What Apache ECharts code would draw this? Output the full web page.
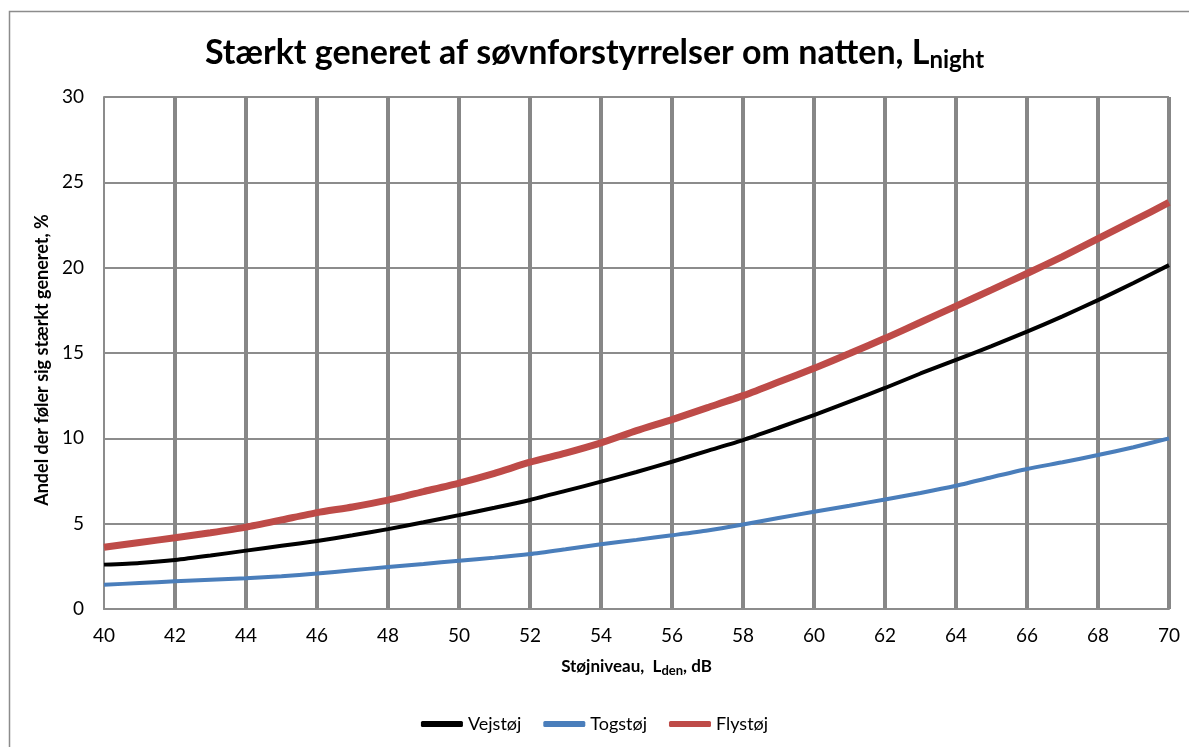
<!DOCTYPE html>
<html>
<head>
<meta charset="utf-8">
<script src="https://cdn.jsdelivr.net/npm/echarts@6/dist/echarts.min.js"></script>
<style>
  html, body { margin: 0; padding: 0; background: #fff; }
  #chart { width: 1189px; height: 747px; }
</style>
</head>
<body>
<div id="chart"></div>
<script>
// stoejniveau L_den, dB
var levels = [40,41,42,43,44,45,46,47,48,49,50,51,52,53,54,55,56,57,58,59,60,61,62,63,64,65,66,67,68,69,70];
var vejstoej = [2.6,2.7,2.87,3.13,3.42,3.7,3.98,4.32,4.68,5.08,5.5,5.93,6.39,6.92,7.46,8.03,8.63,9.27,9.9,10.62,11.36,12.15,12.95,13.8,14.6,15.4,16.25,17.15,18.1,19.1,20.15];
var togstoej = [1.42,1.52,1.62,1.71,1.8,1.92,2.08,2.27,2.46,2.64,2.83,3.01,3.22,3.5,3.79,4.05,4.32,4.6,4.95,5.33,5.7,6.05,6.42,6.8,7.22,7.72,8.2,8.6,9.02,9.48,10.0];
var flystoej = [3.62,3.9,4.17,4.47,4.8,5.22,5.65,5.98,6.38,6.88,7.38,7.95,8.6,9.13,9.73,10.45,11.1,11.8,12.5,13.3,14.1,14.97,15.86,16.8,17.75,18.7,19.66,20.65,21.7,22.75,23.82];
var seriesNames = ['Vejstøj', 'Togstøj', 'Flystøj'];
var colors = ['#000000', '#4a7ebb', '#be4b48'];

function pairs(vals) {
    var out = [];
    for (var i = 0; i < levels.length; i++) {
        out.push([levels[i], vals[i]]);
    }
    return out;
}

var font = 'Lato, "Open Sans", sans-serif';
var chart = echarts.init(document.getElementById('chart'));
var option = {
    backgroundColor: '#fff',
    animation: false,
    textStyle: { fontFamily: font },
    title: {
        text: '{a|Stærkt generet af søvnforstyrrelser om natten, L}{b|night}',
        left: 'center',
        top: 28,
        textStyle: {
            rich: {
                a: { fontFamily: font, fontWeight: 'bold', fontSize: 34, color: '#000', lineHeight: 40 },
                b: { fontFamily: font, fontWeight: 'bold', fontSize: 24, color: '#000', lineHeight: 40, padding: [14, 0, 0, 0] }
            }
        }
    },
    graphic: [{
        type: 'rect',
        shape: { x: 9.5, y: 11.5, width: 1200, height: 800 },
        style: { fill: 'none', stroke: '#8c8c8c', lineWidth: 1.5 },
        silent: true
    }],
    grid: { left: 104, right: 20, top: 97, bottom: 138 },
    legend: {
        data: [
            { name: seriesNames[0], icon: 'roundRect' },
            { name: seriesNames[1], icon: 'roundRect' },
            { name: seriesNames[2], icon: 'roundRect' }
        ],
        bottom: 9,
        left: 'center',
        itemWidth: 42,
        itemHeight: 6,
        itemGap: 22,
        textStyle: { fontFamily: font, fontSize: 18, color: '#000' }
    },
    xAxis: {
        type: 'value',
        min: 40,
        max: 70,
        interval: 2,
        name: '{a|Støjniveau,  L}{b|den}{a|, dB}',
        nameLocation: 'middle',
        nameGap: 46,
        nameTextStyle: {
            rich: {
                a: { fontFamily: font, fontWeight: 'bold', fontSize: 17, color: '#000', lineHeight: 24 },
                b: { fontFamily: font, fontWeight: 'bold', fontSize: 13, color: '#000', lineHeight: 24, padding: [7, 0, 0, 0] }
            }
        },
        axisLine: { show: true, lineStyle: { color: '#8c8c8c', width: 2 } },
        axisTick: { show: false },
        axisLabel: { color: '#000', fontSize: 19, margin: 17, fontFamily: font },
        splitLine: { show: true, showMinLine: false, lineStyle: { color: '#878787', width: 4 } }
    },
    yAxis: {
        type: 'value',
        min: 0,
        max: 30,
        interval: 5,
        name: 'Andel der føler sig stærkt generet, %',
        nameLocation: 'middle',
        nameGap: 44,
        nameTextStyle: { fontFamily: font, fontWeight: 'bold', fontSize: 18, color: '#000', padding: [0, 14, 0, 0] },
        axisLine: { show: true, lineStyle: { color: '#8c8c8c', width: 2 } },
        axisTick: { show: false },
        axisLabel: { color: '#000', fontSize: 19, margin: 20, fontFamily: font },
        splitLine: { show: true, showMinLine: false, lineStyle: { color: '#8c8c8c', width: 2 } }
    },
    series: [
        {
            name: seriesNames[0], type: 'line', data: pairs(vejstoej),
            symbol: 'none', smooth: 0.2, z: 3,
            lineStyle: { color: colors[0], width: 4 },
            itemStyle: { color: colors[0] }
        },
        {
            name: seriesNames[1], type: 'line', data: pairs(togstoej),
            symbol: 'none', smooth: 0.2, z: 3,
            lineStyle: { color: colors[1], width: 4 },
            itemStyle: { color: colors[1] }
        },
        {
            name: seriesNames[2], type: 'line', data: pairs(flystoej),
            symbol: 'none', smooth: 0.2, z: 3,
            lineStyle: { color: colors[2], width: 7 },
            itemStyle: { color: colors[2] }
        }
    ]
};
chart.setOption(option);
</script>
</body>
</html>
